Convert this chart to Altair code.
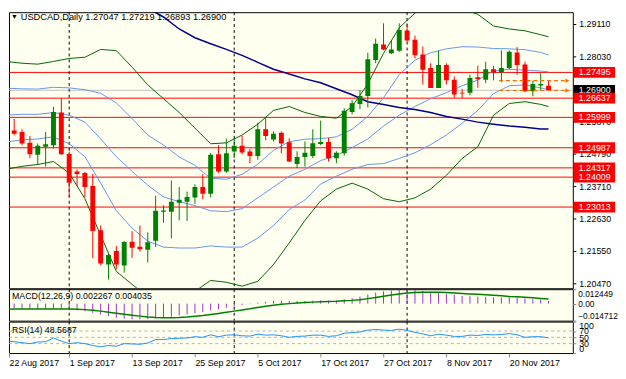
import altair as alt
import pandas as pd

# ---------------- data (bar index 0 = 22 Aug 2017 ... 69 = 27 Nov 2017) ----------------
opens = [1.2551,1.2556,1.2551,1.2515,1.2475,1.2502,1.2507,1.2616,1.2478,1.2420,
         1.2415,1.2371,1.2224,1.2110,1.2155,1.2107,1.2186,1.2169,1.2159,1.2189,
         1.2286,1.2286,1.2316,1.2319,1.2333,1.2368,1.2346,1.2477,1.2420,1.2486,
         1.2505,1.2486,1.2471,1.2560,1.2526,1.2549,1.2517,1.2445,1.2468,1.2471,
         1.2511,1.2518,1.2464,1.2480,1.2618,1.2644,1.2671,1.2791,1.2842,1.2813,
         1.2822,1.2889,1.2858,1.2809,1.2764,1.2698,1.2774,1.2725,1.2682,1.2682,
         1.2733,1.2725,1.2760,1.2749,1.2764,1.2816,1.2776,1.2687,1.2706,1.27047]
highs = [1.2590,1.2595,1.2560,1.2538,1.2513,1.2551,1.2635,1.2663,1.2486,1.2426,
         1.2418,1.2411,1.2240,1.2149,1.2172,1.2188,1.2221,1.2240,1.2217,1.2339,
         1.2307,1.2390,1.2368,1.2353,1.2377,1.2411,1.2482,1.2507,1.2529,1.2531,
         1.2538,1.2496,1.2582,1.2597,1.2553,1.2553,1.2530,1.2487,1.2520,1.2560,
         1.2589,1.2531,1.2487,1.2630,1.2658,1.2691,1.2815,1.2862,1.2913,1.2855,
         1.2913,1.2913,1.2872,1.2836,1.2780,1.2822,1.2780,1.2736,1.2695,1.2742,
         1.2772,1.2785,1.2771,1.2823,1.2823,1.2834,1.2785,1.2722,1.2747,1.27219]
lows = [1.2518,1.2540,1.2507,1.2464,1.2442,1.2436,1.2496,1.2475,1.2335,1.2371,
        1.2333,1.2131,1.2108,1.2060,1.2095,1.2083,1.2132,1.2153,1.2117,1.2169,
        1.2249,1.2197,1.2257,1.2255,1.2311,1.2327,1.2333,1.2415,1.2415,1.2464,
        1.2477,1.2447,1.2459,1.2524,1.2520,1.2480,1.2451,1.2431,1.2436,1.2464,
        1.2507,1.2453,1.2447,1.2472,1.2610,1.2627,1.2633,1.2780,1.2823,1.2810,
        1.2818,1.2851,1.2796,1.2709,1.2698,1.2698,1.2709,1.2665,1.2665,1.2673,
        1.2698,1.2714,1.2723,1.2717,1.2760,1.2742,1.2684,1.2670,1.2689,1.26893]
closes = [1.2561,1.2545,1.2513,1.2477,1.2505,1.2510,1.2618,1.2477,1.2382,1.2411,
          1.2368,1.2222,1.2113,1.2142,1.2110,1.2185,1.2166,1.2161,1.2184,1.2289,
          1.2290,1.2319,1.2326,1.2335,1.2368,1.2346,1.2475,1.2420,1.2480,1.2505,
          1.2483,1.2471,1.2560,1.2538,1.2545,1.2513,1.2453,1.2468,1.2482,1.2514,
          1.2518,1.2464,1.2482,1.2622,1.2647,1.2671,1.2793,1.2845,1.2826,1.2826,
          1.2891,1.2856,1.2807,1.2758,1.2698,1.2774,1.2723,1.2676,1.2679,1.2731,
          1.2727,1.2760,1.2749,1.2764,1.2818,1.2774,1.2687,1.2711,1.2711,1.26900]

band_idx = [0,2,4,6,8,10,12,14,16,18,20,22,24,26,28,30,32,34,36,38,40,42,44,46,48,50,
            52,54,56,58,60,62,64,66,68,69]
bb_mid = [1.2607,1.2610,1.2610,1.2616,1.2607,1.2584,1.2528,1.2469,1.2420,1.2374,1.2335,1.2319,
          1.2306,1.2289,1.2286,1.2296,1.2332,1.2368,1.2404,1.2427,1.2456,1.2473,1.2499,1.2528,
          1.2571,1.2607,1.2636,1.2662,1.2682,1.2705,1.2724,1.2754,1.2760,1.2757,1.2754,1.2751]
bb1_up = [1.2697,1.2695,1.2694,1.2700,1.2698,1.2692,1.2680,1.2648,1.2596,1.2541,1.2508,1.2468,
          1.2440,1.2397,1.2394,1.2410,1.2444,1.2490,1.2519,1.2527,1.2529,1.2535,1.2560,1.2603,
          1.2665,1.2742,1.2790,1.2815,1.2828,1.2835,1.2834,1.2829,1.2828,1.2825,1.2816,1.2807]
bb1_dn = [1.2518,1.2525,1.2528,1.2535,1.2512,1.2469,1.2381,1.2289,1.2231,1.2188,1.2168,1.2165,
          1.2165,1.2172,1.2168,1.2168,1.2198,1.2240,1.2293,1.2325,1.2378,1.2404,1.2427,1.2443,
          1.2446,1.2463,1.2482,1.2509,1.2541,1.2580,1.2623,1.2679,1.2705,1.2708,1.2698,1.2692]
bb2_up = [1.2786,1.2780,1.2777,1.2786,1.2796,1.2800,1.2826,1.2822,1.2767,1.2708,1.2662,1.2616,
          1.2564,1.2512,1.2515,1.2541,1.2577,1.2623,1.2636,1.2616,1.2603,1.2597,1.2636,1.2711,
          1.2813,1.2898,1.2947,1.2986,1.2989,1.2960,1.2943,1.2904,1.2894,1.2888,1.2875,1.2868]
bb2_dn = [1.2427,1.2437,1.2443,1.2453,1.2414,1.2329,1.2208,1.2087,1.2044,1.2002,1.1979,1.1995,
          1.2021,1.2057,1.2051,1.2038,1.2054,1.2110,1.2182,1.2257,1.2322,1.2361,1.2381,1.2361,
          1.2329,1.2319,1.2332,1.2361,1.2407,1.2463,1.2502,1.2607,1.2646,1.2652,1.2643,1.2636]

ma_idx = [16,18,20,22,24,26,28,30,32,34,36,38,40,42,44,46,48,50,52,54,56,58,60,62,64,66,68,69]
ma_long = [1.2986,1.2963,1.2934,1.2894,1.2865,1.2845,1.2826,1.2806,1.2783,1.2760,1.2744,1.2728,
           1.2715,1.2695,1.2675,1.2652,1.2643,1.2633,1.2626,1.2616,1.2603,1.2594,1.2584,1.2577,
           1.2571,1.2567,1.2561,1.2561]

level_prices = [1.27495, 1.26637, 1.25999, 1.24987, 1.24317, 1.24009, 1.23013]
bid_price = 1.26900
arrow_prices = [1.27219, 1.26893]
arrow_from = 62.7
arrow_to = 71.4
month_start_idx = [8, 29, 51]
price_ticks = [1.29110, 1.28030, 1.26950, 1.25870, 1.24790, 1.23710, 1.22630, 1.21550, 1.20470]
date_tick_idx = [0, 8, 16, 24, 32, 40, 48, 56, 64]
date_tick_labels = ["22 Aug 2017", "1 Sep 2017", "13 Sep 2017", "25 Sep 2017", "5 Oct 2017",
                    "17 Oct 2017", "27 Oct 2017", "8 Nov 2017", "20 Nov 2017"]

macd_hist = [-0.0040,-0.0042,-0.0044,-0.0046,-0.0046,-0.0045,-0.0040,-0.0042,
             -0.0050,-0.0058,-0.0066,-0.0080,-0.0095,-0.0108,-0.0122,-0.0130,
             -0.0134,-0.0135,-0.0133,-0.0128,-0.0122,-0.0112,-0.0103,-0.0093,
             -0.0083,-0.0073,-0.0058,-0.0048,-0.0035,-0.0024,-0.0013,-0.0005,
             0.0008,0.0016,0.0022,0.0025,0.0022,0.0022,0.0023,0.0026,
             0.0028,0.0026,0.0027,0.0038,0.0048,0.0060,0.0078,0.0095,
             0.0106,0.0114,0.0122,0.0122,0.0118,0.0110,0.0098,0.0093,
             0.0086,0.0076,0.0067,0.0064,0.0060,0.0058,0.0054,0.0053,
             0.0056,0.0054,0.0044,0.0038,0.0033,0.002267]
macd_signal = [-0.0048,-0.0047,-0.0047,-0.0047,-0.0047,-0.0047,-0.0046,-0.0046,
               -0.0047,-0.0049,-0.0052,-0.0058,-0.0065,-0.0074,-0.0083,-0.0092,
               -0.0100,-0.0108,-0.0115,-0.0120,-0.0122,-0.0122,-0.0120,-0.0116,
               -0.0110,-0.0103,-0.0094,-0.0085,-0.0075,-0.0065,-0.0055,-0.0045,
               -0.0033,-0.0023,-0.0014,-0.0006,0.0000,0.0005,0.0009,0.0013,
               0.0016,0.0018,0.0020,0.0024,0.0028,0.0034,0.0043,0.0053,
               0.0064,0.0074,0.0083,0.0091,0.0096,0.0099,0.0099,0.0098,
               0.0096,0.0092,0.0088,0.0084,0.0080,0.0076,0.0072,0.0068,
               0.0062,0.0059,0.0055,0.0050,0.0045,0.004035]
rsi = [38,36,33,30,35,36,48,38,
       30,33,30,24,20,24,22,30,
       29,28,32,43,43,46,47,48,
       52,50,58,52,57,58,55,54,
       60,57,58,55,50,53,54,57,
       57,53,55,63,65,67,73,75,
       73,72,76,72,66,61,55,60,
       57,53,53,57,56,59,58,59,
       62,58,50,52,52,48.5687]
rsi_levels = [70, 50, 30]
rsi_ticks = [0, 30, 50, 70, 100]
macd_ticks = [-0.014712, 0.0, 0.012449]

title_text = "USDCAD,Daily  1.27047 1.27219 1.26893 1.26900"
macd_text = "MACD(12,26,9) 0.002267 0.004035"
rsi_text = "RSI(14) 48.5687"

# ---------------- styling ----------------
FONT = "Liberation Sans"
FS = 9
W = 574
H_MAIN = 281
H_SUB = 32
BG = "#FFFFF0"
GREEN = "#008000"
RED = "#FF0000"
X_LO, X_HI = 0.3375, 72.0875

x_scale = alt.Scale(domain=[X_LO, X_HI], nice=False, zero=False)
y_scale = alt.Scale(domain=[1.20311, 1.29499], nice=False, zero=False)

bars = pd.DataFrame({"i": list(range(len(opens))), "open": opens, "high": highs,
                     "low": lows, "close": closes})
bars["dir"] = ["up" if c >= o else "down" for o, c in zip(opens, closes)]
col = alt.Color("dir:N", scale=alt.Scale(domain=["up", "down"], range=[GREEN, RED]), legend=None)

xq = alt.X("i:Q", scale=x_scale, axis=None)
y_axis = alt.Axis(orient="right", values=price_ticks, format=".5f", grid=False, domain=False,
                  tickSize=3, tickColor="black", labelColor="black", labelFont=FONT,
                  labelFontSize=FS, labelPadding=3, title=None, labelOverlap=False)

def yq(field):
    return alt.Y(field, scale=y_scale, axis=y_axis)

# horizontal levels
lv = pd.DataFrame({"p": level_prices, "lab": [f"{p:.5f}" for p in level_prices]})
levels = alt.Chart(lv).mark_rule(color=RED, strokeWidth=1).encode(
    y=yq("p:Q"), x=alt.value(0), x2=alt.value(W))
bid_df = pd.DataFrame({"p": [bid_price], "lab": [f"{bid_price:.5f}"]})
bid_line = alt.Chart(bid_df).mark_rule(color="#C0C0C0", strokeWidth=1).encode(
    y=yq("p:Q"), x=alt.value(0), x2=alt.value(W))

ms = pd.DataFrame({"i": month_start_idx})
vlines_main = alt.Chart(ms).mark_rule(color="black", strokeDash=[3, 3], strokeWidth=1).encode(
    x=xq, y=alt.value(0), y2=alt.value(H_MAIN))

def band_layer(idx, vals, color, width=1):
    d = pd.DataFrame({"i": idx, "p": vals})
    return alt.Chart(d).mark_line(color=color, strokeWidth=width, clip=True).encode(
        x=xq, y=yq("p:Q"))

bands = [
    band_layer(band_idx, bb2_up, "#006400"),
    band_layer(band_idx, bb2_dn, "#006400"),
    band_layer(band_idx, bb1_up, "#6495ED"),
    band_layer(band_idx, bb_mid, "#6495ED"),
    band_layer(band_idx, bb1_dn, "#6495ED"),
    band_layer(ma_idx, ma_long, "#00008B", 1.5),
]

wicks = alt.Chart(bars).mark_rule(strokeWidth=1, clip=True).encode(
    x=xq, y=yq("low:Q"), y2="high:Q", color=col)
bodies = alt.Chart(bars).mark_rect(xOffset=-2.5, x2Offset=2.5, clip=True).encode(
    x=xq, x2="i:Q", y=yq("open:Q"), y2="close:Q", color=col)

ar = pd.DataFrame({"p": arrow_prices, "a": [arrow_from] * 2, "b": [arrow_to] * 2})
arrow_lines = alt.Chart(ar).mark_rule(color="#FF6A00", strokeDash=[4, 3], strokeWidth=1.2).encode(
    x=alt.X("a:Q", scale=x_scale, axis=None), x2="b:Q", y=yq("p:Q"))
arrow_heads = alt.Chart(ar).mark_point(shape="triangle-right", filled=True, size=22,
                                       color="#FF6A00", opacity=1).encode(
    x=alt.X("b:Q", scale=x_scale, axis=None), y=yq("p:Q"))

bid_box = alt.Chart(bid_df).mark_rect(color="black", yOffset=-5.5, y2Offset=5.5).encode(
    y=yq("p:Q"), y2="p:Q", x=alt.value(W + 1), x2=alt.value(W + 43))
bid_txt = alt.Chart(bid_df).mark_text(align="left", baseline="middle", color="white",
                                      font=FONT, fontSize=FS).encode(
    y=yq("p:Q"), x=alt.value(W + 6), text="lab:N")
lv_box = alt.Chart(lv).mark_rect(color=RED, yOffset=-5.5, y2Offset=5.5).encode(
    y=yq("p:Q"), y2="p:Q", x=alt.value(W + 1), x2=alt.value(W + 43))
lv_txt = alt.Chart(lv).mark_text(align="left", baseline="middle", color="white",
                                 font=FONT, fontSize=FS).encode(
    y=yq("p:Q"), x=alt.value(W + 6), text="lab:N")

tri = alt.Chart(pd.DataFrame({"t": ["\u25BC"]})).mark_text(
    align="left", baseline="middle", fontSize=7, color="black").encode(
    x=alt.value(2), y=alt.value(5), text="t:N")
title = alt.Chart(pd.DataFrame({"t": [title_text]})).mark_text(
    align="left", baseline="middle", font=FONT, fontSize=9.4, color="black").encode(
    x=alt.value(12), y=alt.value(5), text="t:N")

main = alt.layer(levels, bid_line, vlines_main, *bands, wicks, bodies, arrow_lines, arrow_heads,
                 bid_box, bid_txt, lv_box, lv_txt, tri, title).properties(width=W, height=H_MAIN)

# ---------------- MACD ----------------
macd_df = pd.DataFrame({"i": list(range(len(macd_hist))), "h": macd_hist, "s": macd_signal})
macd_scale = alt.Scale(domain=[-0.014712, 0.012449], nice=False, zero=False)
macd_axis = alt.Axis(orient="right", values=macd_ticks, grid=False, domain=False, tickSize=3,
                     labelFont=FONT, labelFontSize=8.5, labelColor="black", labelPadding=2,
                     labelFlush=True, labelOverlap=False, title=None,
                     labelExpr="datum.value == 0 ? '0.00' : format(datum.value, '.6f')")
hist = alt.Chart(macd_df).mark_rule(color="#9932CC", strokeWidth=1, clip=True).encode(
    x=xq, y=alt.Y("h:Q", scale=macd_scale, axis=macd_axis), y2=alt.datum(0))
sig = alt.Chart(macd_df).mark_line(color=GREEN, strokeWidth=1.5, clip=True).encode(
    x=xq, y=alt.Y("s:Q", scale=macd_scale, axis=macd_axis))
vlines_sub = alt.Chart(ms).mark_rule(color="black", strokeDash=[3, 3], strokeWidth=1).encode(
    x=xq, y=alt.value(0), y2=alt.value(H_SUB))
macd_lab = alt.Chart(pd.DataFrame({"t": [macd_text]})).mark_text(
    align="left", baseline="middle", font=FONT, fontSize=FS, color="black").encode(
    x=alt.value(3), y=alt.value(7), text="t:N")
macd = alt.layer(vlines_sub, hist, sig, macd_lab).properties(width=W, height=H_SUB)

# ---------------- RSI ----------------
rsi_df = pd.DataFrame({"i": list(range(len(rsi))), "r": rsi})
rsi_scale = alt.Scale(domain=[0, 100], nice=False)
rsi_axis = alt.Axis(orient="right", values=rsi_ticks, grid=False, domain=False, tickSize=3,
                    labelFont=FONT, labelFontSize=FS, labelColor="black", labelPadding=3,
                    labelFlush=True, labelOverlap=False, title=None)
labels_js = "[" + ",".join(f"'{s}'" for s in date_tick_labels) + "]"
idx_js = "[" + ",".join(str(v) for v in date_tick_idx) + "]"
# the first date tick sits at the left frame edge of the visible window
x_tick_vals = [max(v, X_LO) for v in date_tick_idx]
x_axis = alt.Axis(orient="bottom", values=x_tick_vals, grid=False, domain=False, tickSize=4,
                  labelAlign="left", labelFont=FONT, labelFontSize=FS, labelColor="black",
                  labelPadding=2, title=None, labelOverlap=False, labelFlush=False,
                  labelExpr=f"{labels_js}[indexof({idx_js}, datum.value < 1 ? 0 : datum.value)]")
xr = alt.X("i:Q", scale=x_scale, axis=x_axis)
lvl = alt.Chart(pd.DataFrame({"v": rsi_levels})).mark_rule(
    color="#B0B0B0", strokeDash=[3, 3], strokeWidth=1).encode(
    y=alt.Y("v:Q", scale=rsi_scale, axis=rsi_axis), x=alt.value(0), x2=alt.value(W))
rsi_line = alt.Chart(rsi_df).mark_line(color="#1E90FF", strokeWidth=1, clip=True).encode(
    x=xr, y=alt.Y("r:Q", scale=rsi_scale, axis=rsi_axis))
vlines_rsi = alt.Chart(ms).mark_rule(color="black", strokeDash=[3, 3], strokeWidth=1).encode(
    x=xr, y=alt.value(0), y2=alt.value(H_SUB))
rsi_lab = alt.Chart(pd.DataFrame({"t": [rsi_text]})).mark_text(
    align="left", baseline="middle", font=FONT, fontSize=FS, color="black").encode(
    x=alt.value(3), y=alt.value(9), text="t:N")
rsi_chart = alt.layer(lvl, vlines_rsi, rsi_line, rsi_lab).properties(width=W, height=H_SUB)

chart = alt.vconcat(main, macd, rsi_chart, spacing=1, bounds="flush").properties(
    padding=0, background="white"
).configure_view(stroke="black", strokeWidth=1, fill=BG)

chart.save("out.html", embed_options={"renderer": "svg", "actions": False})
